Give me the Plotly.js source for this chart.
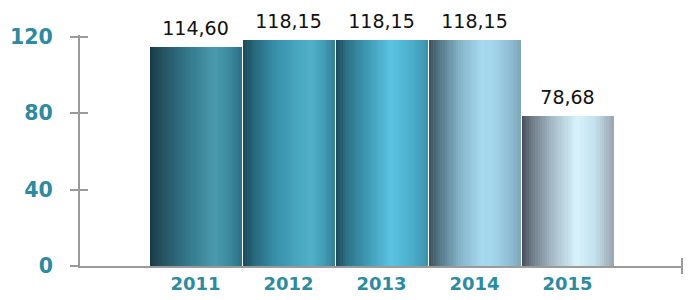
<!DOCTYPE html>
<html>
<head>
<meta charset="utf-8">
<script src="https://cdn.plot.ly/plotly-3.0.1.min.js"></script>
<style>html,body{margin:0;padding:0;background:#fff}#chart{width:696px;height:300px}</style>
</head>
<body>
<div id="chart"></div>
<script>
// Data
const years = ["2011", "2012", "2013", "2014", "2015"];
const values = [114.60, 118.15, 118.15, 118.15, 78.68];
const valueLabels = ["114,60", "118,15", "118,15", "118,15", "78,68"];
const yTicks = [0, 40, 80, 120];

// Styling: cylinder gradient stops per bar (position across bar width -> colour)
const gradients = [
  [[0, "#173845"], [0.12, "#24505e"], [0.35, "#2f6f82"], [0.6, "#438ea2"], [0.72, "#4a9bae"], [0.9, "#3a8599"], [1, "#2c6f82"]],
  [[0, "#1d4856"], [0.12, "#27677a"], [0.35, "#3690a8"], [0.62, "#4aa8c0"], [0.75, "#52b0c8"], [0.9, "#3f9ab3"], [1, "#337f95"]],
  [[0, "#1f4a5a"], [0.12, "#2c7288"], [0.35, "#3f9bb5"], [0.6, "#5cc3e3"], [0.75, "#50b6d4"], [0.9, "#45a4c0"], [1, "#3b92ad"]],
  [[0, "#3c535d"], [0.12, "#56798a"], [0.35, "#86b6ca"], [0.58, "#a6d9ee"], [0.72, "#a2d4ea"], [0.9, "#8cbad0"], [1, "#7ea6ba"]],
  [[0, "#474d55"], [0.1, "#6b7883"], [0.35, "#a9bfcc"], [0.6, "#d7f2fd"], [0.8, "#c3e1ee"], [0.93, "#a9bac4"], [1, "#99a5ad"]]
];

function hexToRgb(h) { return [1, 3, 5].map(i => parseInt(h.substr(i, 2), 16)); }
function interp(stops, t) {
  for (let i = 0; i < stops.length - 1; i++) {
    const [t0, c0] = stops[i], [t1, c1] = stops[i + 1];
    if (t >= t0 && t <= t1) {
      const f = (t - t0) / (t1 - t0), a = hexToRgb(c0), b = hexToRgb(c1);
      return "rgb(" + a.map((v, k) => Math.round(v + (b[k] - v) * f)).join(",") + ")";
    }
  }
  return stops[stops.length - 1][1];
}

const xIdx = years.map((_, i) => i);
const barW = 0.985;
const N = 40;
const traces = [];
for (let s = 0; s < N; s++) {
  const t = (s + 0.5) / N;
  traces.push({
    type: "bar", x: xIdx, y: values,
    width: barW / N + 0.002, offset: -barW / 2 + s * barW / N,
    marker: { color: gradients.map(g => interp(g, t)), line: { width: 0 } },
    hoverinfo: "skip", showlegend: false
  });
}
// Value labels
traces.push({
  type: "scatter", mode: "markers+text", x: xIdx, y: values,
  marker: { size: 10, opacity: 0 },
  text: valueLabels, textposition: "top center", cliponaxis: false,
  textfont: { family: "DejaVu Sans", size: 19, color: "#111" },
  hoverinfo: "skip", showlegend: false
});

const yRange = [0, 121];
const xRange = [-1.242, 5.231];
const axisColor = "#9a9a9a";

const layout = {
  width: 696, height: 300,
  margin: { l: 80, r: 14, t: 35, b: 34 },
  paper_bgcolor: "#fff", plot_bgcolor: "#fff",
  barmode: "overlay", bargap: 0,
  showlegend: false,
  xaxis: {
    range: xRange, tickvals: xIdx, ticktext: years, ticks: "",
    showline: true, linecolor: axisColor, linewidth: 2,
    showgrid: false, zeroline: false,
    tickfont: { family: "DejaVu Sans", size: 18, color: "#2e8aa0", weight: "bold" }
  },
  yaxis: {
    range: yRange, tickvals: yTicks, ticks: "outside", ticklen: 8,
    tickcolor: axisColor, tickwidth: 2,
    showline: true, linecolor: axisColor, linewidth: 2,
    showgrid: false, zeroline: false, ticklabelstandoff: 13,
    tickfont: { family: "DejaVu Sans", size: 20.5, color: "#2e8aa0", weight: "bold" }
  },
  yaxis2: {
    overlaying: "y", side: "left", range: yRange, tickvals: yTicks,
    ticks: "inside", ticklen: 8, tickcolor: axisColor, tickwidth: 2,
    showticklabels: false, showline: false, showgrid: false, zeroline: false
  },
  shapes: [
    { type: "line", xref: "paper", yref: "paper", x0: 1, x1: 1, y0: -0.035, y1: 0.035,
      line: { color: axisColor, width: 2 } }
  ]
};
// dummy trace for yaxis2 so it renders
traces.push({ type: "scatter", x: [0], y: [0], yaxis: "y2", mode: "markers",
  marker: { opacity: 0 }, hoverinfo: "skip", showlegend: false });

Plotly.newPlot("chart", traces, layout, { staticPlot: true, displayModeBar: false });
</script>
</body>
</html>
